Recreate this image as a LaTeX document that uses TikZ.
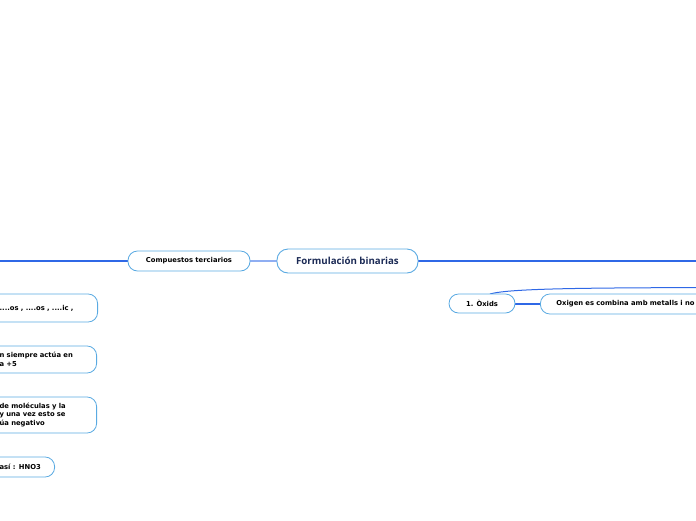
\documentclass[tikz,border=0pt]{standalone}
\usepackage{fontspec}
\setmainfont{DejaVu Sans}
\newfontfamily\titlefont{Open Sans}
\definecolor{linkblue}{HTML}{2F68E6}
\definecolor{palelink}{HTML}{8FAEF2}
\definecolor{boxline}{HTML}{5AAAE2}
\definecolor{navy}{HTML}{1B2A55}

\begin{document}
\begin{tikzpicture}[x=1pt, y=-1pt,
  topic/.style={draw=boxline, line width=0.9pt, fill=white, rounded corners=11pt,
    minimum width=141pt, minimum height=24pt, font=\titlefont\bfseries\fontsize{9.7}{11}\selectfont, text=navy},
  sub/.style={draw=boxline, line width=0.8pt, fill=white, rounded corners=9.5pt,
    inner xsep=12pt, inner ysep=3pt, font=\bfseries\fontsize{6.8}{8.6}\selectfont, align=left},
  link/.style={linkblue, line width=1.3pt}]
  \useasboundingbox (0,0) rectangle (696,520);
  \clip (0,0) rectangle (696,520);

  % central topic and its branches
  \coordinate (leftend) at (-5,261);
  \coordinate (rightend) at (701,261);
  \coordinate (upperend) at (701,287.5);

  \draw[link] (leftend) -- (189,261);
  \draw[link] (347,261) -- (rightend);
  \draw[palelink, line width=1.3pt] (189,261) -- (347,261);
  \draw[link, line width=1pt] (490,294) .. controls (510,288) and (600,288) .. (upperend);
  \draw[link] (482,304) -- (600,304);

  \node[topic] (main) at (347.5,261) {Formulación binarias};
  \node[sub, minimum width=122pt, minimum height=20pt, inner xsep=4pt] (terc) at (189,261) {Compuestos terciarios};

  \node[sub, minimum width=66pt, minimum height=19pt, inner xsep=4pt] (oxids) at (482,303.5) {1. Òxids};
  \node[sub, anchor=west, text width=170pt, minimum height=20pt, inner xsep=16pt] (oxigen) at (540,304) {Oxigen es combina amb metalls i no};

  % boxes cut by the left border
  \node[sub, anchor=east, text width=86pt, minimum height=28pt] (sufix) at (98,308)
    {....os , ....os , ....ic ,};
  \node[sub, anchor=east, text width=85pt, minimum height=27pt] (valen) at (97,359.5)
    {n siempre actúa en\\a +5};
  \node[sub, anchor=east, text width=85pt, minimum height=36pt] (molec) at (97,415)
    {de moléculas y la\\y una vez esto se\\úa negativo};
  \node[sub, anchor=east, text width=43pt, minimum height=20pt] (hno) at (55,467)
    {así : HNO3};
\end{tikzpicture}
\end{document}
